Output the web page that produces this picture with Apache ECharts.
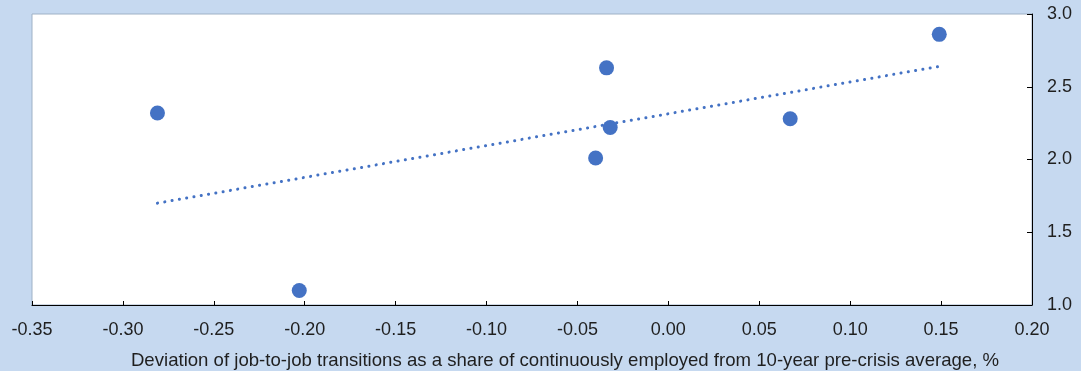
<!DOCTYPE html>
<html>
<head>
<meta charset="utf-8">
<script src="https://cdn.jsdelivr.net/npm/echarts@6/dist/echarts.min.js"></script>
<style>
  html, body { margin: 0; padding: 0; background: #c6d9f0; }
  #chart { width: 1081px; height: 371px; }
</style>
</head>
<body>
<div id="chart"></div>
<script>
// data
const pointX = [-0.281, -0.203, -0.034, -0.032, -0.040, 0.067, 0.149]
const pointY = [2.32, 1.10, 2.63, 2.22, 2.01, 2.28, 2.86]
const trendX = [-0.281, 0.149]
const trendY = [1.70, 2.64]
const xTicks = { min: -0.35, max: 0.20, step: 0.05 }
const yTicks = { min: 1.0, max: 3.0, step: 0.5 }
const xTitle = 'Deviation of job-to-job transitions as a share of continuously employed from 10-year pre-crisis average, %'

const blue = '#4472c4'
const font = 'Liberation Sans, Arial, sans-serif'

function renderChart() {
  const chart = echarts.init(document.getElementById('chart'))
  const option = {
    backgroundColor: '#c6d9f0',
    animation: false,
    grid: {
      left: 32, right: 49, top: 14, bottom: 66,
      show: true, backgroundColor: '#ffffff',
      borderColor: '#9fb1c6', borderWidth: 1
    },
    title: {
      text: xTitle,
      left: 560, top: 346, textAlign: 'center',
      textStyle: { fontFamily: font, fontSize: 18.6, fontWeight: 'normal', color: '#1f1f1f' }
    },
    xAxis: {
      type: 'value',
      min: xTicks.min, max: xTicks.max, interval: xTicks.step,
      axisLine: { show: true, onZero: false, lineStyle: { color: '#000', width: 1 } },
      axisTick: { show: true, inside: true, length: 4, lineStyle: { color: '#000' } },
      splitLine: { show: false },
      axisLabel: {
        margin: 16, color: '#1f1f1f', fontFamily: font, fontSize: 18,
        formatter: v => v.toFixed(2)
      }
    },
    yAxis: {
      type: 'value',
      position: 'right',
      min: yTicks.min, max: yTicks.max, interval: yTicks.step,
      axisLine: { show: true, onZero: false, lineStyle: { color: '#000', width: 1 } },
      axisTick: { show: true, inside: true, length: 5, lineStyle: { color: '#000' } },
      splitLine: { show: false },
      axisLabel: {
        margin: 15, color: '#1f1f1f', fontFamily: font, fontSize: 18,
        formatter: v => v.toFixed(1)
      }
    },
    series: [
      {
        type: 'line',
        data: trendX.map((x, i) => [x, trendY[i]]),
        symbol: 'none',
        lineStyle: { color: blue, width: 3, type: [0.1, 7.3], cap: 'round' },
        z: 1
      },
      {
        type: 'scatter',
        data: pointX.map((x, i) => [x, pointY[i]]),
        symbolSize: 15,
        itemStyle: { color: blue, opacity: 1 },
        z: 2
      }
    ]
  }
  chart.setOption(option)
}

document.addEventListener('DOMContentLoaded', renderChart)
</script>
</body>
</html>
